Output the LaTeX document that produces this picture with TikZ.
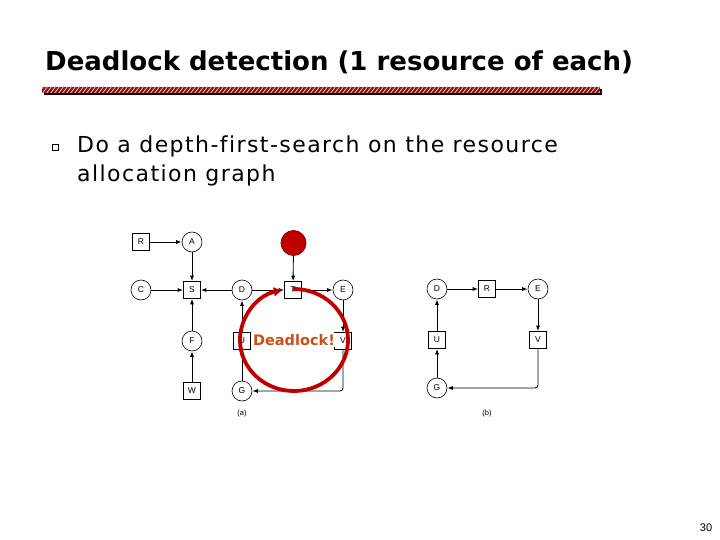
\documentclass[tikz,border=0pt]{standalone}
\usepackage{fontspec}
\setmainfont{DejaVu Sans}
\newfontfamily\lblfont{Liberation Sans}
\newfontfamily\bodyfont[LetterSpace=6.5,Ligatures=NoCommon]{DejaVu Sans}
\usetikzlibrary{arrows.meta}
\definecolor{dred}{HTML}{8B1414}
\definecolor{cred}{HTML}{C00000}
\definecolor{dlk}{HTML}{C8501A}
\begin{document}
\begin{tikzpicture}[x=1pt,y=-1pt,
  sq/.style={draw,minimum size=17pt,inner sep=0pt,font=\lblfont\fontsize{8.5}{8.5}\selectfont,line width=0.6pt,fill=white},
  cir/.style={draw,circle,minimum size=20pt,inner sep=0pt,font=\lblfont\fontsize{8.5}{8.5}\selectfont,line width=0.6pt,fill=white},
  ar/.style={-{Latex[length=5.5pt,width=4pt]},line width=0.9pt},
  lbl/.style={font=\lblfont\fontsize{7.5}{7.5}\selectfont,inner sep=0pt},
  body/.style={anchor=base west,inner sep=0pt,font=\bodyfont\fontsize{22}{22}\selectfont}]
\useasboundingbox (0,0) rectangle (720,540);
% title
\node[anchor=base west,inner sep=0pt,font=\fontsize{26}{26}\selectfont\bfseries] (title) at (45,71) {Deadlock detection (1 resource of each)};
% bar
\fill[black] (44,89.5) rectangle (602,95);
\fill[dred] (42,87) rectangle (600,93);
\begin{scope}
\clip (42,87) rectangle (600,93);
\foreach \i in {0,...,142} \draw[white!80!red,line width=0.7pt] (38+4*\i,94) -- (44+4*\i,86);
\end{scope}
% bullet
\node[draw,minimum size=6pt,inner sep=0pt,line width=0.5pt] (bul) at (55,147) {};
\node[body] (l1) at (77,153) {Do a depth-first-search on the resource};
\node[body] (l2) at (77,182) {allocation graph};
% graph (a)
\node[sq] (R) at (141,242) {R};
\node[cir] (A) at (192,242) {A};
\node[cir] (C) at (141,290) {C};
\node[sq] (S) at (192,290) {S};
\node[cir] (D) at (242,290) {D};
\node[sq] (T) at (293,290) {T};
\node[cir] (E) at (343,290) {E};
\node[cir] (F) at (192,341) {F};
\node[sq] (U) at (242,341) {U};
\node[sq] (V) at (343,341) {V};
\node[sq] (W) at (192,391) {W};
\node[cir] (G) at (242,391) {G};
\node[circle,fill=cred,draw=cred!70!black,line width=0.8pt,minimum size=25pt,inner sep=0pt] (rc) at (293.5,243) {};
\node[lbl] (la) at (242,414) {(a)};
\draw[ar] (R) -- (A);
\draw[ar] (A) -- (S);
\draw[ar] (C) -- (S);
\draw[ar] (D) -- (S);
\draw[ar] (D) -- (T);
\draw[ar] (T) -- (E);
\draw[ar] (rc) -- (T);
\draw[ar] (F) -- (S);
\draw[ar] (W) -- (F);
\draw[ar] (E) -- (V);
\draw[ar,rounded corners=3pt] (V) |- (G);
\draw[ar] (G) -- (U);
\draw[ar] (U) -- (D);
% deadlock circle
\coordinate (cc) at (294,340);
\draw[cred,line width=3.8pt,-{Latex[length=9pt,width=10pt]}] ([shift={(-91:54 and 51)}]cc) arc[start angle=-91,end angle=258,x radius=54,y radius=51];
\node[fill=white,inner sep=1pt,text=dlk,font=\fontsize{14.5}{14.5}\selectfont\bfseries] (dl) at (294,340) {Deadlock!};
% graph (b)
\node[cir] (D2) at (437,289) {D};
\node[sq] (R2) at (487,289) {R};
\node[cir] (E2) at (538,289) {E};
\node[sq] (U2) at (437,340) {U};
\node[sq] (V2) at (538,340) {V};
\node[cir] (G2) at (437,388) {G};
\node[lbl] (lb) at (487,414) {(b)};
\draw[ar] (D2) -- (R2);
\draw[ar] (R2) -- (E2);
\draw[ar] (E2) -- (V2);
\draw[ar,rounded corners=3pt] (V2) |- (G2);
\draw[ar] (G2) -- (U2);
\draw[ar] (U2) -- (D2);
% page number
\node[font=\lblfont\fontsize{11}{11}\selectfont,inner sep=0pt] (pn) at (706,528) {30};
\end{tikzpicture}
\end{document}
